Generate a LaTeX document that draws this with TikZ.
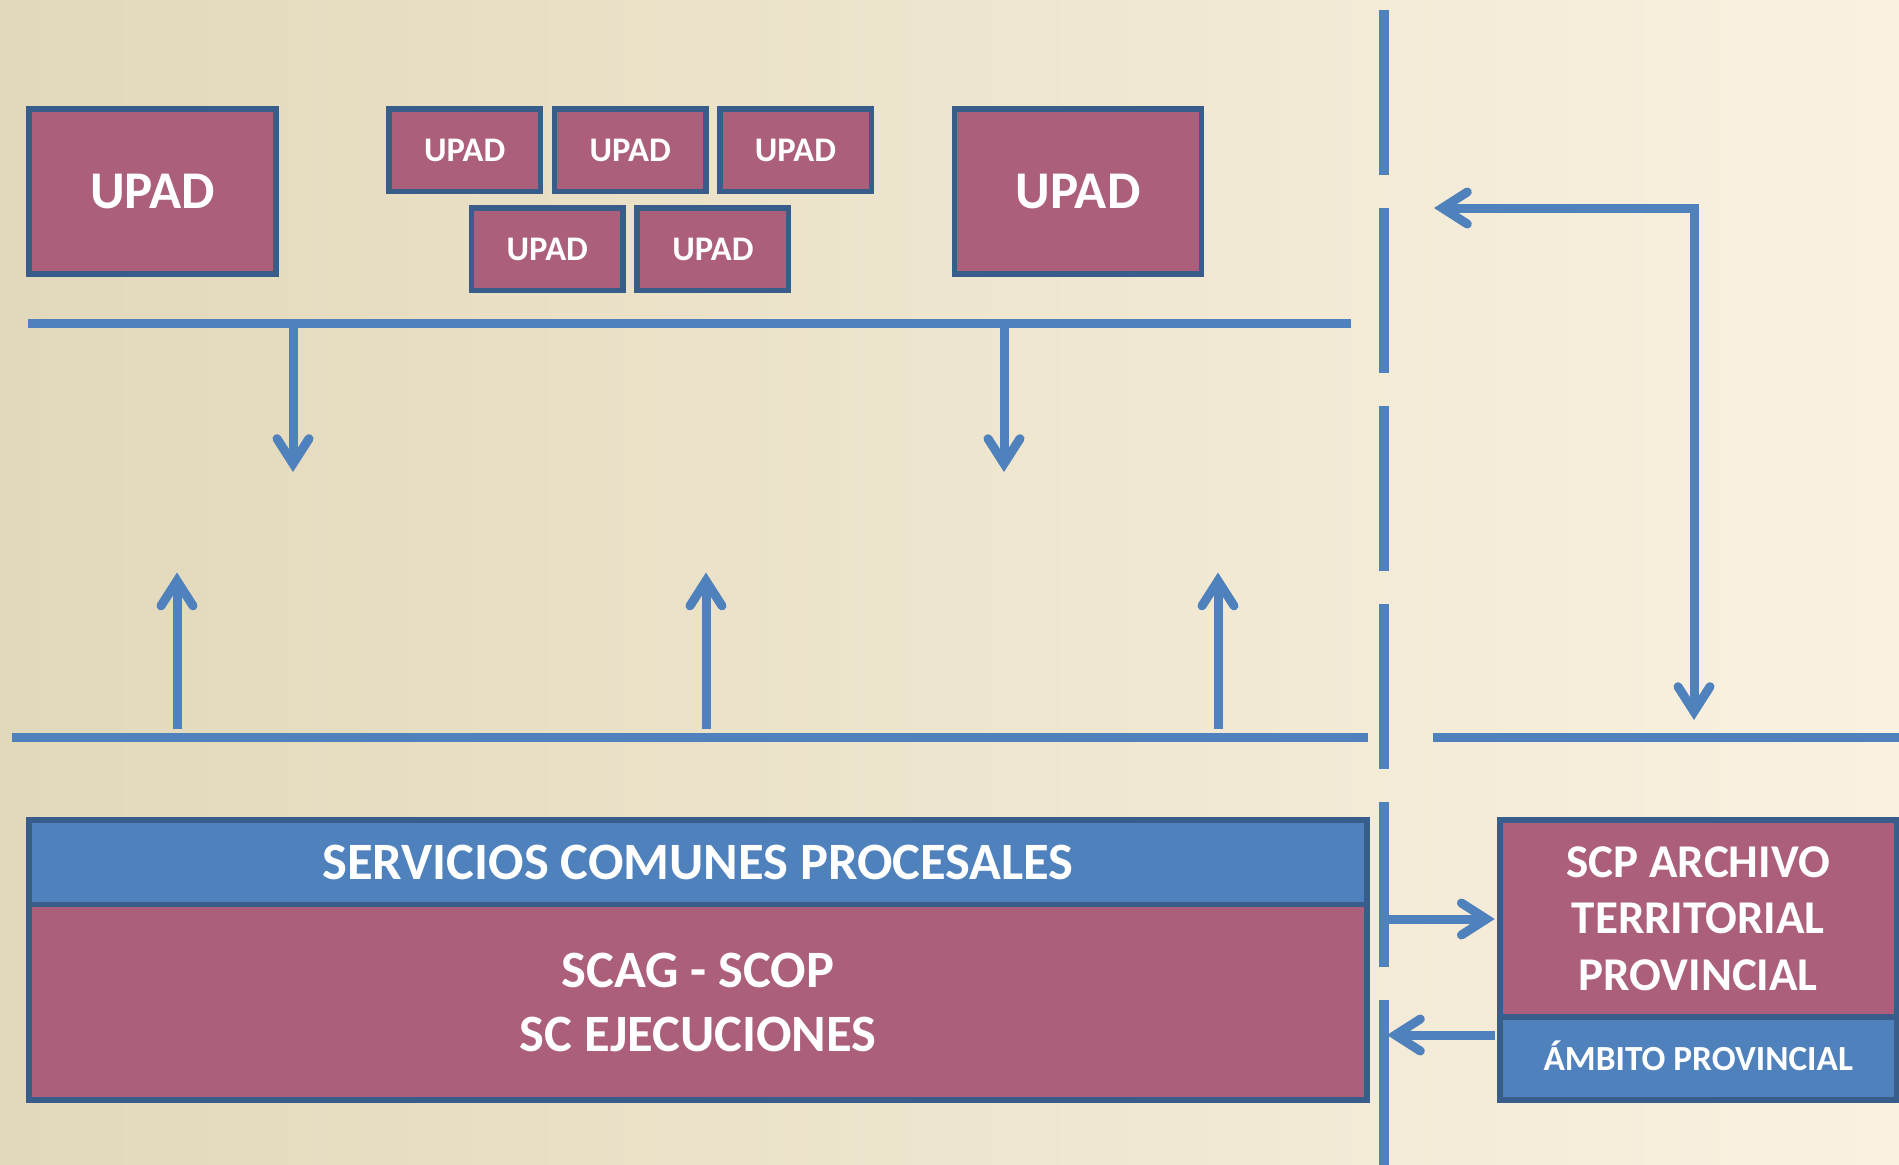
\documentclass[tikz,border=0pt]{standalone}
\usepackage{fontspec}
\setmainfont{Carlito}
\usetikzlibrary{arrows.meta}
\definecolor{mag}{RGB}{172,95,123}
\definecolor{bfill}{RGB}{79,129,189}
\definecolor{bord}{RGB}{56,93,138}
\definecolor{lin}{RGB}{79,129,189}
\definecolor{bgA}{RGB}{226,216,186}
\definecolor{bgB}{RGB}{243,237,217}
\definecolor{bgC}{RGB}{249,242,225}
\newcommand\myfA{\fontsize{53}{63}\selectfont\bfseries}
\newcommand\myfB{\fontsize{34.5}{41}\selectfont\bfseries}
\newcommand\myfS{\fontsize{52.5}{63.7}\selectfont\bfseries}
\newcommand\myfC{\fontsize{47}{56.3}\selectfont\bfseries}
\newcommand\myfD{\fontsize{35.3}{42}\selectfont\bfseries}
\tikzset{
  box/.style={rectangle, draw=bord, line width=5.5pt, fill=mag, text=white, inner sep=0pt, text depth=-5pt},
  bbox/.style={box, fill=bfill},
  bigupad/.style={box, minimum width=247pt, minimum height=165pt, font=\myfA},
  smallupad/.style={box, minimum width=151.5pt, minimum height=82.5pt, font=\myfB, text depth=-2.5pt},
  ln/.style={draw=lin, line width=9pt},
  tipv/.tip={Straight Barb[length=25pt,width=32pt,line join=miter,line cap=round]},
  arr/.style={ln, -tipv},
  darr/.style={ln, tipv-tipv},
}
\begin{document}
\begin{tikzpicture}[x=1pt,y=-1pt]
\useasboundingbox (0,0) rectangle (1899,1165);
\shade[left color=bgA, middle color=bgB, right color=bgC] (0,0) rectangle (1899,1165);

% UPAD boxes
\node[bigupad] (u1) at (152.5,191.5) {UPAD};
\node[smallupad] (u2) at (464.7,150.2) {UPAD};
\node[smallupad] (u3) at (630.2,150.2) {UPAD};
\node[smallupad] (u4) at (795.5,150.2) {UPAD};
\node[smallupad] (u5) at (547.3,249.2) {UPAD};
\node[smallupad] (u6) at (712.9,249.2) {UPAD};
\node[bigupad] (u7) at (1078,191.5) {UPAD};

% Servicios comunes
\node[box, minimum width=1338pt, minimum height=195.3pt, align=center, font=\myfS] (scb) at (698,1002.35) {SCAG - SCOP\\SC EJECUCIONES};
\node[bbox, minimum width=1338pt, minimum height=84.7pt, font=\myfS] (sct) at (698,862.35) {SERVICIOS COMUNES PROCESALES};

% SCP archivo
\node[box, minimum width=396.5pt, minimum height=197pt, align=center, font=\myfC, text depth=-2.5pt] (scp) at (1698.25,918.5) {SCP ARCHIVO\\TERRITORIAL\\PROVINCIAL};
\node[bbox, minimum width=396.5pt, minimum height=83pt, font=\myfD, text height=23pt, text depth=-7pt] (amb) at (1698.25,1058.5) {ÁMBITO PROVINCIAL};

% dashed divider
\coordinate (dv1) at (1384,10);
\coordinate (dv2) at (1384,1175);
\draw[draw=lin, line width=9.5pt, dash pattern=on 165pt off 33pt] (dv1) -- (dv2);

% top bus and down arrows
\coordinate (tb1) at (28,323.5);
\coordinate (tb2) at (1351,323.5);
\draw[ln] (tb1) -- (tb2);
\coordinate (d1s) at (293,323.5);
\coordinate (d1e) at (293,472);
\coordinate (d2s) at (1004,323.5);
\coordinate (d2e) at (1004,472);
\draw[arr] (d1s) -- (d1e);
\draw[arr] (d2s) -- (d2e);

% bottom bus and up arrows
\coordinate (bb1) at (12,737.3);
\coordinate (bb2) at (1368,737.3);
\draw[ln] (bb1) -- (bb2);
\coordinate (p1s) at (177,729);
\coordinate (p1e) at (177,572.5);
\coordinate (p2s) at (706,729);
\coordinate (p2e) at (706,572.5);
\coordinate (p3s) at (1218,729);
\coordinate (p3e) at (1218,572.5);
\draw[arr] (p1s) -- (p1e);
\draw[arr] (p2s) -- (p2e);
\draw[arr] (p3s) -- (p3e);

% right bus and loop arrow
\coordinate (rb1) at (1433,737.3);
\coordinate (rb2) at (1905,737.3);
\draw[ln] (rb1) -- (rb2);
\coordinate (lp1) at (1434,208);
\coordinate (lp2) at (1694,720);
\draw[darr] (lp1) -| (lp2);

% arrows to and from SCP
\coordinate (a1) at (1384,919);
\draw[arr, shorten >=2.5pt] (a1) -- (a1 -| scp.west);
\coordinate (a2) at (1387,1035);
\draw[arr, shorten <=2.5pt] (a2 -| amb.west) -- (a2);
\end{tikzpicture}
\end{document}
